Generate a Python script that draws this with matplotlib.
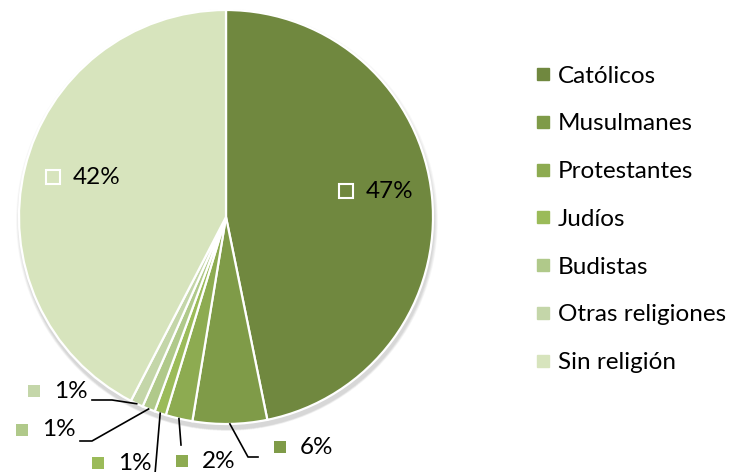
import numpy as np
import matplotlib.pyplot as plt
from matplotlib.patches import Circle

plt.rcParams['font.family'] = ['Lato', 'DejaVu Sans']

# datos (porcentaje estimado de la gráfica; etiquetas redondeadas)
categorias = ["Católicos", "Musulmanes", "Protestantes", "Judíos",
              "Budistas", "Otras religiones", "Sin religión"]
porcentajes = [46.8, 5.8, 2.1, 0.9, 1.0, 1.0, 42.4]
colores = ["#70883F", "#7F9B48", "#8DAB51", "#9BBB59",
           "#B0C98A", "#C4D6A9", "#D7E4BD"]

# posiciones de etiquetas (px, y desde arriba) y codos de las líneas guía
pos_marca = [(346, 191), (280, 447), (182, 461), (98, 463),
             (22, 430), (34, 391), (53, 177)]
codos = [None, [(248, 457), (258, 457)], [(181, 445)], [(155, 474)],
         [(92, 441), (80, 441)], [(112, 400), (92, 400)], None]

W, H = 730, 472
fig = plt.figure(figsize=(W / 100, H / 100), dpi=100)
ax = fig.add_axes([0, 0, 1, 1])

cx, cy, r = 226, H - 217, 207

# sombra suave
for i in range(8):
    ax.add_patch(Circle((cx + 1, cy - 3 - i * 0.3), r + 4 - i * 0.5,
                        color='black', alpha=0.018, lw=0, zorder=0))

wedges, _ = ax.pie(porcentajes, colors=colores, startangle=90, counterclock=False,
                   center=(cx, cy), radius=r, frame=True,
                   wedgeprops=dict(edgecolor='white', linewidth=1.6))
ax.set_xlim(0, W)
ax.set_ylim(0, H)
ax.axis('off')

for w, p, c, (mx, my), codo in zip(wedges, porcentajes, colores, pos_marca, codos):
    myy = H - my
    grande = codo is None
    if grande:
        ax.plot(mx, myy, marker='s', ms=9.5, mfc=c, mec='white', mew=1.5, zorder=5)
    else:
        ax.plot(mx, myy, marker='s', ms=8.6, mfc=c, mec=c, mew=0, zorder=5)
        ang = np.deg2rad((w.theta1 + w.theta2) / 2)
        x0 = cx + r * np.cos(ang)
        y0 = cy + r * np.sin(ang)
        xs = [x0] + [q[0] for q in codo]
        ys = [y0] + [H - q[1] for q in codo]
        ax.plot(xs, ys, color='black', lw=1.2, zorder=4)
    ax.text(mx + 20, myy, f"{round(p)}%", fontsize=17.5,
            va='center', ha='left', zorder=6)

# leyenda
handles = [plt.Line2D([], [], marker='s', ls='', ms=8.6, mfc=c, mec=c) for c in colores]
ax.legend(handles, categorias, loc='upper left', bbox_to_anchor=(526 / W, 1 - 56 / H),
          frameon=False, fontsize=17.5, handlelength=0.6, handletextpad=0.32,
          labelspacing=1.1, borderaxespad=0)

fig.savefig('out.png', dpi=100)
